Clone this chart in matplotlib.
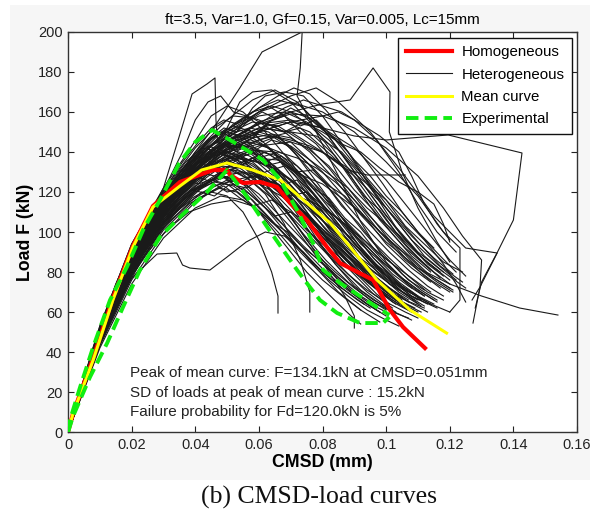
# CMSD-load curves: homogeneous, heterogeneous, mean curve and experiment
import numpy as np
import matplotlib.pyplot as plt
from matplotlib.patches import Rectangle

plt.rcParams['font.family'] = ['Liberation Sans', 'DejaVu Sans']

# Mean curve of the heterogeneous runs (CMSD in mm, load in kN)
mean_x = [0, 0.0016, 0.0079, 0.0141, 0.0204, 0.0267, 0.0352, 0.042, 0.050, 0.058,
          0.0667, 0.0751, 0.0824, 0.0887, 0.0971, 0.1075, 0.119]
mean_y = [0, 9.5, 36, 66, 92.5, 112.5, 123, 131, 134.5, 131,
          126, 114.5, 104.5, 92.5, 76, 61, 49.5]

# Homogeneous model
homo_x = [0, 0.0016, 0.0079, 0.0141, 0.0204, 0.0267, 0.0352, 0.0456, 0.050, 0.051,
          0.055, 0.0604, 0.0657, 0.0698, 0.0751, 0.0814, 0.0855, 0.0959, 0.1012,
          0.1053, 0.1122]
homo_y = [0, 9.5, 37, 67, 93, 113, 125, 131, 131, 128.5,
          124.5, 125, 122.5, 114.5, 106, 92.5, 84.5, 76, 61,
          52.5, 42]

# Experimental curves (upper and lower)
exp1_x = [0, 0.0006, 0.0038, 0.0079, 0.0132, 0.0185, 0.0236, 0.0289, 0.035, 0.040,
          0.0453, 0.0509, 0.0613, 0.0667, 0.072, 0.077, 0.0802, 0.0855, 0.097, 0.101]
exp1_y = [0, 6, 22.5, 42.5, 66, 82.5, 101, 116, 134.5, 145,
          151, 146, 136, 126, 111, 94.5, 81, 74.5, 62.5, 58.5]
exp2_x = [0, 0.0016, 0.0069, 0.0123, 0.0173, 0.0226, 0.0289, 0.0352, 0.0437, 0.050,
          0.0563, 0.0626, 0.072, 0.076, 0.0792, 0.0846, 0.0918, 0.099, 0.101]
exp2_y = [0, 8, 27.5, 44.5, 62.5, 81, 97.5, 107.5, 120, 131,
          117.5, 102.5, 81, 72.5, 66, 59.5, 54.5, 54.5, 57.5]

# Heterogeneous runs, each one a list of (CMSD, load) points
hetero_curves = [
    [(0, 0), (0.01, 50), (0.02, 90), (0.03, 118), (0.04, 140), (0.047, 155), (0.054, 172), (0.061, 190), (0.0736, 200), (0.073, 182), (0.072, 168), (0.078, 150), (0.085, 128), (0.092, 105), (0.1, 85), (0.108, 72)],
    [(0, 0), (0.01, 51), (0.02, 91), (0.03, 122), (0.035, 148), (0.039, 169), (0.0437, 174), (0.0462, 177), (0.0465, 156), (0.047, 145), (0.055, 142), (0.065, 133), (0.075, 118), (0.085, 98), (0.095, 80), (0.103, 66)],
    [(0, 0), (0.01, 47), (0.02, 85), (0.03, 110), (0.04, 130), (0.05, 145), (0.06, 155), (0.07, 160), (0.08, 164), (0.0887, 166), (0.0959, 182), (0.1012, 170), (0.101, 150), (0.105, 130), (0.11, 112), (0.116, 95), (0.12, 85)],
    [(0, 0), (0.01, 46), (0.02, 83), (0.03, 108), (0.04, 128), (0.05, 142), (0.06, 150), (0.07, 155), (0.08, 152), (0.09, 148), (0.1, 146), (0.1195, 148.5), (0.1427, 139.5), (0.140, 106), (0.135, 90), (0.13, 75), (0.128, 62)],
    [(0, 0), (0.01, 49), (0.02, 88), (0.03, 114), (0.04, 134), (0.05, 146), (0.06, 150), (0.07, 145), (0.08, 130), (0.09, 112), (0.1, 95), (0.11, 82), (0.12, 74), (0.13, 68), (0.142, 62), (0.154, 58.5)],
    [(0, 0), (0.01, 48), (0.02, 87), (0.03, 113), (0.04, 132), (0.05, 145), (0.06, 152), (0.07, 150), (0.08, 140), (0.088, 131), (0.094, 128.5), (0.106, 128.5)],
    [(0, 0), (0.01, 50), (0.02, 89), (0.03, 116), (0.04, 136), (0.05, 150), (0.06, 160), (0.07, 165), (0.08, 160), (0.09, 150), (0.1, 135), (0.11, 118), (0.118, 100), (0.1232, 92), (0.1232, 66), (0.12, 60)],
    [(0, 0), (0.01, 51), (0.02, 92), (0.03, 119), (0.04, 140), (0.05, 156), (0.058, 166), (0.065, 171), (0.072, 165), (0.08, 152), (0.09, 130), (0.1, 108), (0.11, 90), (0.118, 80), (0.125, 72)],
    [(0, 0), (0.01, 49), (0.02, 87), (0.03, 113), (0.04, 133), (0.05, 148), (0.06, 160), (0.07, 168), (0.078, 172), (0.085, 165), (0.095, 150), (0.105, 130), (0.115, 108), (0.125, 92), (0.1349, 89.5), (0.1295, 72.5), (0.1273, 54.5)],
    [(0, 0), (0.01, 52), (0.02, 93), (0.03, 120), (0.037, 135), (0.042, 142), (0.048, 140), (0.055, 133), (0.062, 121), (0.07, 105), (0.078, 88), (0.086, 74), (0.094, 64), (0.1, 58)],
    [(0, 0), (0.01, 47), (0.02, 84), (0.03, 109), (0.04, 127), (0.047, 135), (0.053, 138), (0.06, 131), (0.068, 118), (0.076, 100), (0.084, 84), (0.092, 71), (0.1, 62), (0.108, 56)],
    [(0, 0), (0.01, 45), (0.02, 80), (0.03, 104), (0.04, 121), (0.048, 128), (0.055, 124), (0.062, 112), (0.07, 97), (0.078, 82), (0.085, 70), (0.092, 61), (0.098, 55)],
    [(0, 0), (0.01, 50), (0.02, 90), (0.03, 117), (0.04, 138), (0.046, 148), (0.052, 153), (0.058, 150), (0.064, 141), (0.071, 126), (0.079, 108), (0.088, 90), (0.097, 76), (0.106, 66), (0.113, 60)],
    [(0, 0), (0.01, 49), (0.02, 88), (0.03, 114), (0.04, 133), (0.05, 144), (0.056, 147), (0.062, 143), (0.07, 133), (0.078, 118), (0.087, 100), (0.096, 84), (0.105, 72), (0.114, 64)],
    [(0, 0), (0.01, 53), (0.02, 94), (0.03, 122), (0.036, 136), (0.041, 148), (0.045, 158), (0.05, 163), (0.055, 160), (0.062, 150), (0.07, 135), (0.078, 117), (0.087, 98), (0.096, 82), (0.104, 71)],
    [(0, 0), (0.01, 46), (0.02, 82), (0.03, 106), (0.04, 124), (0.05, 136), (0.058, 141), (0.066, 138), (0.074, 128), (0.082, 112), (0.09, 96), (0.098, 82), (0.106, 71), (0.114, 64), (0.12, 60)],
    [(0, 0), (0.01, 42), (0.02, 74), (0.03, 97), (0.04, 112), (0.048, 118), (0.055, 116), (0.062, 108), (0.07, 96), (0.078, 83), (0.086, 72), (0.093, 64)],
    [(0, 0), (0.01, 44), (0.02, 77), (0.028, 89), (0.0342, 89.5), (0.036, 83.5), (0.0383, 82), (0.0446, 81), (0.05, 87.5), (0.056, 95), (0.062, 100), (0.068, 98), (0.074, 90), (0.08, 80), (0.086, 72)],
    [(0, 0), (0.01, 45), (0.02, 79), (0.03, 102), (0.038, 114), (0.045, 120), (0.05, 118), (0.055, 110), (0.06, 96), (0.064, 80), (0.066, 68), (0.066, 59.5)],
    [(0, 0), (0.01, 46), (0.02, 81), (0.03, 105), (0.04, 122), (0.048, 130), (0.055, 129), (0.062, 119), (0.068, 104), (0.073, 86), (0.076, 70), (0.076, 60)],
    [(0, 0), (0.01, 51), (0.02, 91), (0.03, 118), (0.04, 137), (0.05, 149), (0.058, 155), (0.066, 153), (0.074, 145), (0.082, 132), (0.09, 116), (0.098, 100), (0.106, 86), (0.114, 76), (0.12, 70)],
    [(0, 0), (0.01, 48), (0.02, 86), (0.03, 111), (0.04, 129), (0.05, 140), (0.06, 144), (0.068, 139), (0.076, 127), (0.084, 110), (0.092, 92), (0.1, 78), (0.108, 68), (0.116, 62)],
    [(0, 0), (0.01, 50), (0.02, 89), (0.03, 115), (0.038, 131), (0.044, 140), (0.05, 144), (0.056, 141), (0.063, 132), (0.07, 120), (0.078, 104), (0.086, 88), (0.094, 75), (0.102, 65), (0.108, 60)],
    [(0, 0), (0.01, 47), (0.02, 85), (0.03, 110), (0.04, 128), (0.05, 140), (0.058, 147), (0.064, 156), (0.07, 160), (0.076, 157), (0.084, 146), (0.092, 130), (0.1, 112), (0.108, 96), (0.116, 84), (0.122, 76)],
    [(0, 0), (0.01, 52), (0.02, 92), (0.03, 119), (0.04, 139), (0.045, 147), (0.05, 150), (0.056, 146), (0.064, 134), (0.072, 117), (0.08, 99), (0.088, 82), (0.096, 69), (0.102, 62)],
    [(0, 0), (0.01, 49), (0.02, 87), (0.03, 113), (0.04, 131), (0.05, 142), (0.057, 145), (0.063, 142), (0.07, 131), (0.077, 117), (0.084, 102), (0.09, 90), (0.096, 80), (0.103, 72), (0.11, 66)],
    [(0, 0), (0.01, 46), (0.02, 83), (0.03, 108), (0.04, 126), (0.05, 138), (0.06, 146), (0.07, 150), (0.078, 148), (0.086, 140), (0.094, 126), (0.102, 110), (0.11, 95), (0.117, 83), (0.124, 75)],
    [(0, 0), (0.01, 50), (0.02, 90), (0.03, 116), (0.04, 135), (0.048, 145), (0.053, 150), (0.058, 162), (0.062, 168), (0.068, 170), (0.074, 168), (0.08, 158), (0.088, 140), (0.096, 120), (0.104, 100), (0.112, 86), (0.12, 76)],
    [(0, 0), (0.01, 48), (0.02, 86), (0.03, 112), (0.04, 130), (0.05, 141), (0.055, 143), (0.06, 138), (0.066, 127), (0.072, 112), (0.078, 97), (0.084, 84), (0.09, 73), (0.096, 66), (0.102, 61)],
    [(0, 0), (0.01, 44), (0.02, 79), (0.03, 103), (0.04, 120), (0.05, 132), (0.058, 137), (0.066, 136), (0.074, 128), (0.082, 115), (0.09, 100), (0.098, 86), (0.106, 75), (0.112, 68)],
    [(0, 0), (0.01, 51), (0.02, 91), (0.03, 117), (0.038, 134), (0.045, 146), (0.05, 152), (0.054, 165), (0.058, 170), (0.064, 171), (0.07, 165), (0.076, 155), (0.083, 140), (0.09, 124), (0.098, 106), (0.106, 92), (0.114, 81)],
    [(0, 0), (0.01, 47), (0.02, 84), (0.03, 109), (0.04, 126), (0.048, 133), (0.054, 132), (0.06, 125), (0.067, 113), (0.074, 99), (0.081, 86), (0.088, 75), (0.095, 66), (0.1, 61)],
    [(0, 0), (0.01, 50), (0.02, 89), (0.03, 116), (0.04, 136), (0.05, 150), (0.06, 158), (0.068, 160), (0.075, 155), (0.082, 146), (0.09, 132), (0.098, 116), (0.106, 100), (0.112, 88), (0.118, 80)],
    [(0, 0), (0.01, 45), (0.02, 81), (0.03, 105), (0.04, 123), (0.05, 135), (0.058, 141), (0.065, 140), (0.072, 133), (0.08, 120), (0.088, 103), (0.096, 87), (0.104, 74), (0.111, 66)],
    [(0, 0), (0.01, 49), (0.02, 88), (0.03, 114), (0.038, 130), (0.044, 139), (0.049, 141), (0.055, 136), (0.061, 126), (0.068, 112), (0.075, 96), (0.082, 82), (0.089, 71), (0.095, 64), (0.1, 60)],
    [(0, 0), (0.01, 52), (0.02, 93), (0.03, 121), (0.04, 142), (0.046, 152), (0.052, 158), (0.058, 157), (0.065, 150), (0.072, 138), (0.08, 121), (0.088, 103), (0.096, 87), (0.104, 75), (0.11, 68)],
    [(0, 0), (0.01, 46), (0.02, 82), (0.03, 107), (0.04, 125), (0.05, 137), (0.06, 143), (0.07, 145), (0.08, 140), (0.09, 128), (0.1, 112), (0.108, 98), (0.115, 87), (0.121, 79)],
    [(0, 0), (0.01, 48), (0.02, 86), (0.03, 112), (0.04, 131), (0.05, 144), (0.06, 152), (0.068, 155), (0.076, 150), (0.084, 138), (0.092, 121), (0.1, 104), (0.108, 90), (0.115, 80), (0.12, 74)],
    [(0, 0), (0.01, 43), (0.02, 76), (0.03, 99), (0.04, 115), (0.05, 125), (0.058, 128), (0.066, 124), (0.074, 114), (0.082, 100), (0.09, 86), (0.098, 74), (0.104, 66)],
    [(0, 0), (0.01, 51), (0.02, 90), (0.03, 117), (0.04, 137), (0.047, 148), (0.053, 154), (0.06, 162), (0.066, 166), (0.073, 163), (0.08, 152), (0.087, 137), (0.095, 119), (0.103, 102), (0.11, 89), (0.116, 81)],
    [(0, 0), (0.01, 44), (0.02, 78), (0.03, 101), (0.04, 116), (0.047, 122), (0.053, 120), (0.059, 112), (0.066, 100), (0.073, 87), (0.08, 76), (0.087, 67), (0.092, 61)],
    [(0, 0), (0.01, 49), (0.02, 87), (0.03, 113), (0.04, 133), (0.05, 146), (0.06, 154), (0.07, 156), (0.08, 152), (0.09, 142), (0.1, 126), (0.108, 110), (0.115, 96), (0.12, 86), (0.125, 78)],
    [(0, 0), (0.01, 47), (0.02, 84), (0.03, 109), (0.04, 126), (0.048, 134), (0.055, 133), (0.062, 124), (0.069, 110), (0.076, 94), (0.082, 80), (0.087, 68), (0.09, 58), (0.09, 52)],
    [(0, 0), (0.01, 50), (0.02, 89), (0.03, 115), (0.04, 134), (0.048, 142), (0.054, 144), (0.06, 140), (0.066, 131), (0.073, 118), (0.08, 103), (0.087, 90), (0.094, 79), (0.1, 71), (0.106, 66), (0.112, 62)],
    [(0, 0), (0.01, 45), (0.02, 80), (0.03, 104), (0.04, 121), (0.05, 131), (0.056, 133), (0.062, 129), (0.069, 119), (0.076, 106), (0.084, 92), (0.092, 79), (0.1, 69), (0.107, 62)],
    [(0, 0), (0.01, 53), (0.02, 94), (0.03, 121), (0.036, 140), (0.04, 156), (0.044, 165), (0.048, 168), (0.052, 160), (0.06, 156), (0.068, 150), (0.076, 140), (0.084, 126), (0.092, 110), (0.1, 94), (0.108, 82), (0.114, 75)],
    [(0, 0), (0.01, 48), (0.02, 86), (0.03, 112), (0.04, 131), (0.05, 145), (0.06, 154), (0.07, 159), (0.08, 158), (0.09, 152), (0.1, 142), (0.11, 128), (0.118, 112), (0.124, 98), (0.13, 86), (0.1295, 72.5), (0.127, 66)],
    [(0, 0), (0.01, 47), (0.02, 85), (0.03, 110), (0.04, 129), (0.05, 142), (0.06, 150), (0.07, 155), (0.08, 158), (0.085, 160), (0.09, 156), (0.097, 146), (0.104, 130), (0.11, 114), (0.116, 100), (0.122, 90)],
    [(0, 0), (0.008, 40), (0.015, 70), (0.022, 92), (0.028, 108), (0.033, 118), (0.037, 126), (0.041, 124), (0.045, 131), (0.05, 136), (0.054, 133), (0.058, 137), (0.063, 130), (0.068, 124), (0.072, 126), (0.077, 115), (0.082, 104), (0.088, 96), (0.093, 84), (0.099, 77), (0.104, 70), (0.11, 64)],
    [(0, 0), (0.008, 37), (0.016, 68), (0.024, 90), (0.031, 104), (0.037, 113), (0.042, 120), (0.046, 118), (0.051, 124), (0.056, 122), (0.061, 127), (0.066, 121), (0.071, 114), (0.076, 108), (0.081, 98), (0.087, 90), (0.092, 80), (0.097, 72), (0.103, 66), (0.108, 60)],
    [(0, 0), (0.009, 44), (0.017, 78), (0.024, 100), (0.03, 115), (0.035, 127), (0.04, 137), (0.044, 143), (0.048, 141), (0.052, 147), (0.057, 151), (0.061, 145), (0.066, 148), (0.071, 140), (0.076, 131), (0.081, 124), (0.086, 113), (0.091, 105), (0.096, 95), (0.101, 87), (0.107, 78), (0.113, 70), (0.118, 66)],
    [(0, 0), (0.009, 41), (0.018, 75), (0.026, 97), (0.033, 111), (0.039, 121), (0.044, 119), (0.049, 123), (0.054, 117), (0.059, 112), (0.064, 105), (0.069, 100), (0.074, 92), (0.079, 86), (0.084, 78), (0.089, 70), (0.094, 64), (0.098, 60)],
    [(0, 0), (0.008, 42), (0.016, 76), (0.023, 98), (0.029, 113), (0.034, 124), (0.039, 133), (0.044, 139), (0.049, 144), (0.053, 142), (0.058, 147), (0.063, 154), (0.068, 150), (0.073, 152), (0.078, 145), (0.083, 138), (0.088, 130), (0.093, 118), (0.098, 111), (0.103, 100), (0.108, 93), (0.113, 84), (0.118, 78)],
    [(0, 0), (0.01, 50), (0.018, 84), (0.025, 106), (0.031, 121), (0.036, 131), (0.04, 138), (0.044, 136), (0.048, 129), (0.052, 124), (0.057, 119), (0.062, 112), (0.068, 103), (0.074, 93), (0.08, 84), (0.086, 76), (0.092, 68), (0.097, 63)],
    [(0, 0), (0.009, 43), (0.017, 76), (0.025, 100), (0.032, 116), (0.038, 126), (0.043, 133), (0.048, 130), (0.053, 136), (0.058, 140), (0.062, 135), (0.067, 138), (0.072, 131), (0.077, 122), (0.082, 117), (0.087, 107), (0.092, 100), (0.097, 90), (0.102, 84), (0.107, 76), (0.112, 71)],
    [(0, 0), (0.008, 39), (0.016, 71), (0.024, 95), (0.031, 110), (0.037, 119), (0.043, 124), (0.049, 128), (0.054, 125), (0.06, 129), (0.065, 124), (0.07, 118), (0.075, 120), (0.08, 110), (0.085, 102), (0.09, 96), (0.095, 86), (0.1, 80), (0.105, 73), (0.11, 68), (0.115, 64)],
    [(0, 0), (0.01, 49), (0.018, 82), (0.025, 104), (0.031, 119), (0.036, 130), (0.041, 140), (0.045, 147), (0.049, 152), (0.053, 150), (0.057, 156), (0.061, 160), (0.065, 157), (0.07, 162), (0.075, 158), (0.08, 151), (0.085, 146), (0.09, 136), (0.095, 128), (0.1, 118), (0.105, 110), (0.11, 100), (0.115, 92)],
    [(0, 0), (0.009, 45), (0.017, 79), (0.024, 101), (0.03, 115), (0.035, 123), (0.04, 128), (0.045, 125), (0.05, 120), (0.055, 122), (0.06, 115), (0.065, 108), (0.07, 110), (0.075, 101), (0.08, 94), (0.085, 88), (0.09, 80), (0.095, 74), (0.1, 68), (0.104, 64)],
    [(0, 0), (0.008, 38), (0.017, 72), (0.025, 95), (0.032, 108), (0.038, 115), (0.044, 121), (0.05, 126), (0.056, 124), (0.062, 130), (0.068, 133), (0.074, 128), (0.08, 124), (0.086, 117), (0.092, 110), (0.098, 100), (0.104, 92), (0.11, 82), (0.116, 75), (0.121, 70)],
    [(0, 0), (0.01, 47), (0.019, 82), (0.027, 105), (0.034, 121), (0.04, 133), (0.045, 141), (0.05, 145), (0.055, 143), (0.06, 138), (0.065, 131), (0.07, 126), (0.075, 117), (0.08, 110), (0.085, 100), (0.09, 93), (0.095, 84), (0.1, 78), (0.105, 70), (0.109, 66)],
    [(0, 0), (0.009, 44), (0.018, 79), (0.026, 102), (0.033, 118), (0.039, 130), (0.044, 138), (0.049, 146), (0.054, 151), (0.058, 148), (0.063, 155), (0.068, 158), (0.073, 153), (0.078, 156), (0.083, 148), (0.088, 140), (0.094, 127), (0.1, 116), (0.106, 103), (0.112, 94), (0.118, 85), (0.124, 80)],
    [(0, 0), (0.008, 40), (0.016, 73), (0.023, 95), (0.03, 111), (0.036, 122), (0.041, 130), (0.046, 128), (0.051, 133), (0.056, 129), (0.061, 123), (0.066, 126), (0.071, 118), (0.076, 112), (0.081, 104), (0.086, 97), (0.091, 88), (0.096, 82), (0.101, 74), (0.106, 69), (0.111, 63)],
    [(0, 0), (0.01, 48), (0.018, 83), (0.026, 107), (0.032, 122), (0.037, 132), (0.042, 140), (0.046, 145), (0.05, 143), (0.055, 138), (0.059, 140), (0.064, 132), (0.069, 125), (0.074, 116), (0.079, 108), (0.084, 97), (0.089, 89), (0.094, 79), (0.099, 72), (0.104, 66), (0.109, 62)],
    [(0, 0), (0.009, 42), (0.017, 76), (0.025, 99), (0.032, 115), (0.038, 127), (0.044, 136), (0.05, 143), (0.056, 148), (0.062, 152), (0.068, 150), (0.074, 155), (0.08, 150), (0.086, 144), (0.092, 140), (0.098, 132), (0.104, 125), (0.11, 120), (0.115, 114), (0.118, 104), (0.12, 95)],
    [(0, 0), (0.008, 36), (0.016, 66), (0.024, 88), (0.031, 101), (0.038, 110), (0.045, 114), (0.052, 116), (0.058, 113), (0.064, 116), (0.07, 110), (0.076, 104), (0.082, 96), (0.088, 88), (0.094, 80), (0.1, 72), (0.105, 66)],
    [(0, 0), (0.009, 42), (0.018, 76), (0.026, 98), (0.033, 112), (0.039, 121), (0.045, 126), (0.05, 124), (0.055, 118), (0.06, 110), (0.065, 100), (0.07, 90), (0.075, 80), (0.08, 72), (0.085, 64), (0.089, 58), (0.092, 54)],
    [(0, 0), (0.01, 46), (0.019, 80), (0.027, 103), (0.034, 118), (0.04, 128), (0.046, 135), (0.052, 139), (0.057, 136), (0.062, 140), (0.067, 135), (0.072, 130), (0.077, 131), (0.082, 123), (0.087, 118), (0.092, 109), (0.097, 102), (0.102, 94), (0.107, 88), (0.112, 80), (0.117, 75), (0.121, 71)],
    [(0, 0), (0.009, 46), (0.017, 80), (0.024, 103), (0.03, 119), (0.035, 130), (0.04, 139), (0.044, 146), (0.048, 150), (0.052, 147), (0.057, 143), (0.062, 136), (0.067, 128), (0.072, 120), (0.077, 110), (0.082, 103), (0.087, 93), (0.092, 86), (0.097, 77), (0.102, 71), (0.107, 65)],
    [(0, 0), (0.008, 43), (0.015, 74), (0.021, 95), (0.027, 112), (0.032, 123), (0.037, 131), (0.041, 135), (0.045, 132), (0.05, 126), (0.055, 121), (0.06, 112), (0.065, 104), (0.07, 96), (0.075, 88), (0.08, 80), (0.086, 72), (0.091, 66), (0.095, 62)],
    [(0, 0), (0.009, 43), (0.017, 77), (0.025, 100), (0.032, 117), (0.038, 128), (0.044, 137), (0.05, 145), (0.056, 151), (0.062, 156), (0.068, 162), (0.074, 166), (0.08, 163), (0.086, 160), (0.092, 154), (0.098, 148), (0.104, 140), (0.108, 128), (0.112, 114), (0.116, 104), (0.12, 96)],
    [(0, 0), (0.01, 44), (0.02, 78), (0.028, 98), (0.035, 112), (0.042, 122), (0.048, 129), (0.054, 133), (0.06, 137), (0.066, 140), (0.072, 137), (0.078, 132), (0.084, 125), (0.09, 116), (0.096, 106), (0.102, 96), (0.108, 87), (0.114, 78), (0.12, 72)],
    [(0, 0), (0.009, 45), (0.018, 80), (0.025, 101), (0.031, 115), (0.036, 124), (0.041, 129), (0.046, 134), (0.051, 131), (0.056, 127), (0.061, 128), (0.066, 122), (0.071, 115), (0.076, 106), (0.081, 99), (0.086, 90), (0.091, 83), (0.096, 75), (0.101, 69), (0.106, 64)],
    [(0, 0), (0.01, 50), (0.018, 85), (0.025, 107), (0.031, 123), (0.036, 135), (0.041, 145), (0.045, 152), (0.049, 156), (0.053, 154), (0.058, 158), (0.063, 163), (0.068, 158), (0.073, 150), (0.078, 144), (0.084, 133), (0.09, 121), (0.096, 111), (0.102, 99), (0.108, 88), (0.114, 80)],
    [(0, 0), (0.009, 42), (0.018, 76), (0.026, 98), (0.033, 114), (0.04, 126), (0.046, 134), (0.052, 141), (0.058, 145), (0.064, 148), (0.07, 146), (0.076, 143), (0.082, 138), (0.088, 132), (0.094, 124), (0.1, 116), (0.106, 106), (0.112, 96), (0.118, 84), (0.122, 74), (0.125, 65)],
    [(0, 0), (0.008, 41), (0.016, 74), (0.023, 96), (0.03, 112), (0.036, 123), (0.042, 131), (0.047, 137), (0.052, 141), (0.057, 138), (0.062, 133), (0.067, 135), (0.072, 127), (0.077, 119), (0.082, 110), (0.087, 104), (0.092, 94), (0.097, 87), (0.102, 79), (0.107, 73), (0.112, 68)],
    [(0, 0), (0.01, 47), (0.019, 81), (0.027, 104), (0.034, 119), (0.04, 129), (0.046, 137), (0.052, 143), (0.058, 140), (0.064, 146), (0.07, 143), (0.076, 136), (0.082, 129), (0.088, 122), (0.094, 112), (0.1, 104), (0.106, 95), (0.112, 86), (0.117, 80)],
    [(0, 0), (0.009, 40), (0.018, 74), (0.026, 96), (0.033, 110), (0.04, 120), (0.047, 126), (0.054, 130), (0.06, 127), (0.066, 124), (0.072, 118), (0.078, 114), (0.084, 108), (0.09, 100), (0.096, 92), (0.102, 84), (0.108, 77), (0.114, 70)],
    [(0, 0), (0.009, 43), (0.017, 77), (0.024, 99), (0.031, 115), (0.037, 126), (0.042, 134), (0.047, 140), (0.052, 137), (0.057, 133), (0.062, 126), (0.067, 119), (0.072, 112), (0.077, 102), (0.082, 94), (0.087, 84), (0.092, 77), (0.097, 69), (0.101, 64)],
    [(0, 0), (0.009, 41), (0.018, 75), (0.026, 97), (0.033, 111), (0.04, 121), (0.046, 127), (0.052, 131), (0.058, 129), (0.064, 124), (0.07, 116), (0.076, 108), (0.082, 98), (0.088, 88), (0.094, 78), (0.1, 70), (0.105, 64), (0.11, 60)],
    [(0, 0), (0.01, 46), (0.019, 80), (0.027, 102), (0.034, 117), (0.04, 127), (0.046, 134), (0.052, 138), (0.058, 134), (0.064, 127), (0.07, 118), (0.076, 107), (0.082, 96), (0.088, 86), (0.094, 77), (0.1, 70), (0.106, 64), (0.111, 60)],
    [(0, 0), (0.009, 43), (0.017, 77), (0.025, 99), (0.032, 114), (0.038, 124), (0.044, 131), (0.05, 135), (0.055, 133), (0.06, 128), (0.066, 120), (0.072, 110), (0.078, 101), (0.084, 91), (0.09, 82), (0.096, 73), (0.102, 66), (0.107, 61)],
    [(0, 0), (0.01, 48), (0.019, 84), (0.027, 107), (0.034, 124), (0.04, 136), (0.046, 144), (0.052, 149), (0.058, 147), (0.064, 141), (0.07, 132), (0.076, 121), (0.082, 110), (0.088, 98), (0.094, 87), (0.1, 77), (0.106, 69), (0.112, 63)],
    [(0, 0), (0.009, 42), (0.018, 76), (0.026, 99), (0.033, 114), (0.04, 125), (0.047, 133), (0.054, 137), (0.06, 135), (0.066, 131), (0.072, 124), (0.078, 115), (0.084, 105), (0.09, 94), (0.096, 84), (0.102, 75), (0.108, 68), (0.113, 64)],
    [(0, 0), (0.01, 49), (0.018, 83), (0.026, 106), (0.033, 122), (0.039, 134), (0.045, 143), (0.051, 149), (0.057, 152), (0.063, 150), (0.069, 144), (0.075, 135), (0.081, 124), (0.087, 112), (0.093, 100), (0.099, 89), (0.105, 79), (0.111, 71), (0.116, 66)],
    [(0, 0), (0.008, 38), (0.017, 71), (0.025, 93), (0.032, 107), (0.039, 117), (0.046, 123), (0.053, 126), (0.06, 124), (0.067, 118), (0.074, 110), (0.081, 100), (0.088, 90), (0.095, 80), (0.101, 72), (0.107, 66)],
    [(0, 0), (0.009, 44), (0.018, 79), (0.026, 102), (0.033, 118), (0.039, 129), (0.045, 137), (0.051, 142), (0.057, 143), (0.063, 139), (0.069, 133), (0.075, 125), (0.081, 115), (0.087, 106), (0.093, 96), (0.099, 86), (0.105, 77), (0.11, 71), (0.115, 66)],
    [(0, 0), (0.01, 47), (0.019, 82), (0.027, 105), (0.034, 121), (0.041, 133), (0.047, 141), (0.053, 146), (0.059, 149), (0.065, 147), (0.071, 141), (0.077, 132), (0.083, 122), (0.089, 111), (0.095, 100), (0.101, 90), (0.107, 81), (0.113, 73), (0.118, 68)],
    [(0, 0), (0.009, 45), (0.017, 79), (0.024, 101), (0.031, 117), (0.037, 128), (0.043, 136), (0.048, 140), (0.053, 139), (0.058, 135), (0.063, 128), (0.068, 120), (0.073, 112), (0.078, 103), (0.083, 94), (0.088, 85), (0.093, 77), (0.098, 70), (0.103, 64)],
    [(0, 0), (0.009, 44), (0.017, 78), (0.025, 101), (0.032, 118), (0.038, 131), (0.044, 142), (0.05, 151), (0.056, 158), (0.061, 163), (0.066, 168), (0.071, 172), (0.076, 169), (0.081, 161), (0.087, 150), (0.093, 137), (0.099, 124), (0.105, 110), (0.111, 98), (0.117, 88), (0.122, 80)],
    [(0, 0), (0.01, 46), (0.018, 80), (0.026, 103), (0.033, 120), (0.04, 134), (0.046, 145), (0.052, 154), (0.058, 160), (0.064, 163), (0.07, 160), (0.076, 153), (0.082, 144), (0.088, 132), (0.094, 119), (0.1, 106), (0.106, 94), (0.112, 84), (0.117, 77)],
    [(0, 0), (0.009, 42), (0.018, 77), (0.026, 100), (0.033, 116), (0.04, 128), (0.046, 137), (0.052, 143), (0.058, 147), (0.064, 149), (0.07, 147), (0.076, 141), (0.082, 133), (0.088, 122), (0.094, 110), (0.1, 98), (0.106, 87), (0.112, 78), (0.117, 72)],
    [(0, 0), (0.01, 48), (0.018, 82), (0.025, 104), (0.032, 120), (0.038, 131), (0.043, 137), (0.048, 139), (0.053, 136), (0.058, 130), (0.064, 121), (0.07, 111), (0.076, 100), (0.082, 89), (0.088, 79), (0.094, 70), (0.099, 64), (0.103, 60)],
    [(0, 0), (0.009, 43), (0.018, 78), (0.026, 101), (0.033, 117), (0.039, 128), (0.045, 134), (0.051, 137), (0.057, 136), (0.063, 133), (0.069, 127), (0.075, 120), (0.081, 112), (0.087, 103), (0.093, 94), (0.099, 85), (0.105, 77), (0.111, 70), (0.116, 65)],
    [(0, 0), (0.009, 42), (0.018, 76), (0.026, 98), (0.033, 112), (0.04, 121), (0.046, 125), (0.052, 123), (0.058, 116), (0.064, 106), (0.07, 95), (0.076, 85), (0.082, 76), (0.088, 68), (0.094, 61), (0.1, 56), (0.104, 53)],
    [(0, 0), (0.01, 45), (0.019, 79), (0.027, 101), (0.034, 115), (0.041, 124), (0.048, 128), (0.054, 126), (0.06, 119), (0.066, 109), (0.072, 99), (0.078, 89), (0.084, 80), (0.09, 72), (0.096, 65), (0.102, 60), (0.107, 57)],
    [(0, 0), (0.009, 44), (0.018, 79), (0.026, 101), (0.033, 116), (0.039, 126), (0.045, 131), (0.051, 129), (0.057, 122), (0.063, 112), (0.069, 101), (0.075, 90), (0.081, 80), (0.087, 72), (0.093, 65), (0.098, 60)],
    [(0, 0), (0.01, 47), (0.019, 82), (0.027, 104), (0.034, 119), (0.04, 128), (0.046, 132), (0.052, 131), (0.058, 125), (0.064, 117), (0.07, 108), (0.076, 98), (0.082, 88), (0.088, 79), (0.094, 71), (0.1, 65), (0.106, 60), (0.11, 57)],
]

# Text in the lower part of the plot
notes = ["Peak of mean curve: F=134.1kN at CMSD=0.051mm",
         "SD of loads at peak of mean curve : 15.2kN",
         "Failure probability for Fd=120.0kN is 5%"]

fig = plt.figure(figsize=(5.9, 5.15), dpi=100)
fig.patch.set_facecolor('white')
# light grey panel behind the MATLAB figure
panel = Rectangle((0.017, 0.068), 0.983, 0.922, transform=fig.transFigure,
                  facecolor='#f6f6f6', edgecolor='none', zorder=-10)
fig.add_artist(panel)
ax = fig.add_axes([0.1153, 0.161, 0.8627, 0.777])
ax.set_zorder(1)
ax.set_facecolor('white')

# Heterogeneous curves
for i, curve in enumerate(hetero_curves):
    xs = [p[0] for p in curve]
    ys = [p[1] for p in curve]
    ax.plot(xs, ys, color='#1a1a1a', lw=0.8, label='Heterogeneous' if i == 0 else None, zorder=2)

# Homogeneous, mean and experimental curves
ax.plot(homo_x, homo_y, color='#ff0000', lw=3.0, label='Homogeneous', zorder=3)
ax.plot(mean_x, mean_y, color='#ffff00', lw=2.2, label='Mean curve', zorder=4)
ax.plot(exp1_x, exp1_y, color='#11ee11', lw=2.8, ls=(0, (3.2, 1.6)), label='Experimental', zorder=5)
ax.plot(exp2_x, exp2_y, color='#11ee11', lw=2.8, ls=(0, (3.2, 1.6)), zorder=5)

# Axes limits and ticks, MATLAB style
ax.set_xlim(0, 0.16)
ax.set_ylim(0, 200)
ax.set_xticks(np.arange(0, 0.161, 0.02))
ax.set_xticklabels(['0', '0.02', '0.04', '0.06', '0.08', '0.1', '0.12', '0.14', '0.16'])
ax.set_yticks(np.arange(0, 201, 20))
ax.tick_params(direction='in', top=True, right=True, length=4, width=0.8,
               labelsize=10.5, colors='#222222', pad=4)
for s in ax.spines.values():
    s.set_color('#333333')
    s.set_linewidth(1.0)

ax.set_xlabel('CMSD (mm)', fontsize=12.8, fontweight='bold', labelpad=2)
ax.set_ylabel('Load F (kN)', fontsize=12.8, fontweight='bold', labelpad=3)
ax.set_title('ft=3.5, Var=1.0, Gf=0.15, Var=0.005, Lc=15mm', fontsize=10.9, pad=6)

# Legend in the upper right
handles, labels = ax.get_legend_handles_labels()
order = [labels.index(n) for n in ['Homogeneous', 'Heterogeneous', 'Mean curve', 'Experimental']]
leg = ax.legend([handles[k] for k in order], [labels[k] for k in order],
                loc='upper right', bbox_to_anchor=(0.99, 0.985), borderaxespad=0,
                fontsize=10.8, handlelength=3.1, fancybox=False, framealpha=1,
                edgecolor='#111111', labelspacing=0.55, borderpad=0.5, handletextpad=0.6)
leg.get_frame().set_linewidth(1.0)

# Notes
for k, line in enumerate(notes):
    ax.text(0.0195, 29.5 - k * 9.8, line, fontsize=11, color='#222222', va='center')

# Caption under the figure
fig.text(0.54, 0.035, '(b) CMSD-load curves', fontsize=18.5, family='Liberation Serif',
         ha='center', va='center', color='#111111')

plt.savefig('out.png', dpi=100)
